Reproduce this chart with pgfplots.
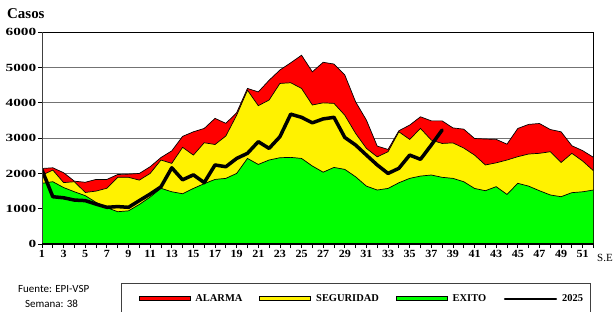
\documentclass[border=0pt]{standalone}
\usepackage{fontspec}
\setmainfont{Liberation Serif}
\newfontfamily\carlito{Carlito}
\newfontfamily\wideserif[FakeStretch=1.4]{Liberation Serif}
\newfontfamily\semiwideserif[FakeStretch=1.1]{Liberation Serif}
\usepackage{pgfplots}
\pgfplotsset{compat=1.18}
\usepackage{pgfplotstable}

\pgfplotstableread{
w red yel grn
1 2140 1950 1720
2 2160 2095 1765
3 2020 1740 1600
4 1780 1765 1480
5 1750 1460 1370
6 1830 1500 1180
7 1830 1580 1030
8 1970 1890 915
9 1980 1890 940
10 2000 1810 1120
11 2190 2000 1330
12 2450 2380 1580
13 2640 2285 1480
14 3050 2740 1425
15 3180 2520 1575
16 3275 2870 1710
17 3560 2820 1830
18 3420 3060 1860
19 3720 3650 2000
20 4410 4360 2425
21 4310 3920 2255
22 4640 4080 2380
23 4930 4550 2445
24 5135 4570 2455
25 5350 4410 2425
26 4880 3940 2210
27 5150 4000 2035
28 5100 3985 2170
29 4790 3650 2115
30 4030 3135 1905
31 3510 2710 1640
32 2775 2470 1530
33 2680 2615 1575
34 3210 3180 1735
35 3370 2965 1860
36 3605 3275 1925
37 3490 2945 1955
38 3490 2850 1890
39 3290 2865 1860
40 3255 2720 1765
41 2990 2520 1575
42 2975 2240 1510
43 2965 2300 1625
44 2830 2380 1405
45 3275 2475 1720
46 3390 2550 1640
47 3415 2570 1510
48 3245 2615 1390
49 3180 2310 1340
50 2785 2570 1455
51 2645 2350 1480
52 2455 2075 1530
}\thresholds

\pgfplotstableread{
w c
1 2100
2 1340
3 1310
4 1245
5 1230
6 1130
7 1040
8 1060
9 1040
10 1230
11 1415
12 1620
13 2160
14 1820
15 1960
16 1740
17 2240
18 2190
19 2425
20 2570
21 2900
22 2710
23 3040
24 3680
25 3590
26 3435
27 3545
28 3590
29 3020
30 2805
31 2520
32 2240
33 2000
34 2145
35 2520
36 2400
37 2805
38 3230
}\casos

\begin{document}
\begin{tikzpicture}[x=1bp,y=1bp]
\useasboundingbox (0,0) rectangle (614,311);
\begin{axis}[
 at={(42bp,67bp)}, anchor=south west,
 scale only axis, width=551.5bp, height=211.7bp,
 xmin=1, xmax=52, ymin=0, ymax=6000,
 enlargelimits=false,
 xtick={1,3,...,51}, minor xtick={2,4,...,52},
 ytick={0,1000,...,6000},
 xtick pos=left, ytick pos=left,
 tick align=outside,
 major tick length=4bp, minor tick length=4bp,
 every tick/.append style={black, line width=0.8bp},
 ymajorgrids, grid style={black!55, line width=0.9bp},
 axis line style={black, line width=0.9bp},
 /pgf/number format/assume math mode=true,
 /pgf/number format/1000 sep={},
 yticklabel style={font=\wideserif\bfseries\fontsize{11}{12}\selectfont, inner xsep=1.5bp},
 xticklabel style={font=\semiwideserif\bfseries\fontsize{11}{12}\selectfont, inner ysep=2.5bp},
 legend columns=4,
 legend style={
  at={(axis description cs:0.1427,-0.1842)}, anchor=north west,
  draw=black!75, line width=0.9bp,
  inner xsep=5.5bp, inner ysep=9bp,
  font=\bfseries\fontsize{10.5}{12}\selectfont,
  /tikz/every even column/.append style={column sep=3bp},
  /tikz/every odd column/.append style={column sep=3bp},
 },
]
\addplot[fill=red, draw=black, line width=0.7bp,
 legend image code/.code={\path (0bp,0bp); \draw[fill=red, draw=black, line width=0.8bp] (12bp,-2bp) rectangle (63bp,2bp);}]
 table[x=w,y=red]{\thresholds} \closedcycle;
\addlegendentry{ALARMA}
\addplot[fill=yellow, draw=black, line width=0.7bp,
 legend image code/.code={\path (0bp,0bp); \draw[fill=yellow, draw=black, line width=0.8bp] (12bp,-2bp) rectangle (63bp,2bp);}]
 table[x=w,y=yel]{\thresholds} \closedcycle;
\addlegendentry{SEGURIDAD}
\addplot[fill=green, draw=black, line width=0.7bp,
 legend image code/.code={\path (0bp,0bp); \draw[fill=green, draw=black, line width=0.8bp] (12bp,-2bp) rectangle (63bp,2bp);}]
 table[x=w,y=grn]{\thresholds} \closedcycle;
\addlegendentry{EXITO}
\addplot[black, line width=3.5bp, line join=round, line cap=round,
 legend image code/.code={\path (0bp,0bp); \draw[black, line width=2.2bp] (12bp,0bp) -- (63bp,0bp);}]
 table[x=w,y=c]{\casos};
\addlegendentry{2025}
\draw[black!75, line width=2bp] (rel axis cs:0,0) -- (rel axis cs:0,1);
\draw[black, line width=1.6bp] (rel axis cs:0,0) -- (rel axis cs:1,0);
\end{axis}
\node[anchor=base west, inner sep=0pt, font=\bfseries\fontsize{15}{17}\selectfont] at (7bp,292.7bp) {Casos};
\node[anchor=west, inner sep=0pt, font=\fontsize{11}{12}\selectfont] at (597bp,53bp) {S.E};
\node[anchor=west, inner sep=0pt, font=\carlito\fontsize{11}{12}\selectfont] at (18bp,22bp) {Fuente: EPI-VSP};
\node[anchor=west, inner sep=0pt, font=\carlito\fontsize{11}{12}\selectfont] at (25bp,7bp) {Semana: 38};
\end{tikzpicture}
\end{document}
